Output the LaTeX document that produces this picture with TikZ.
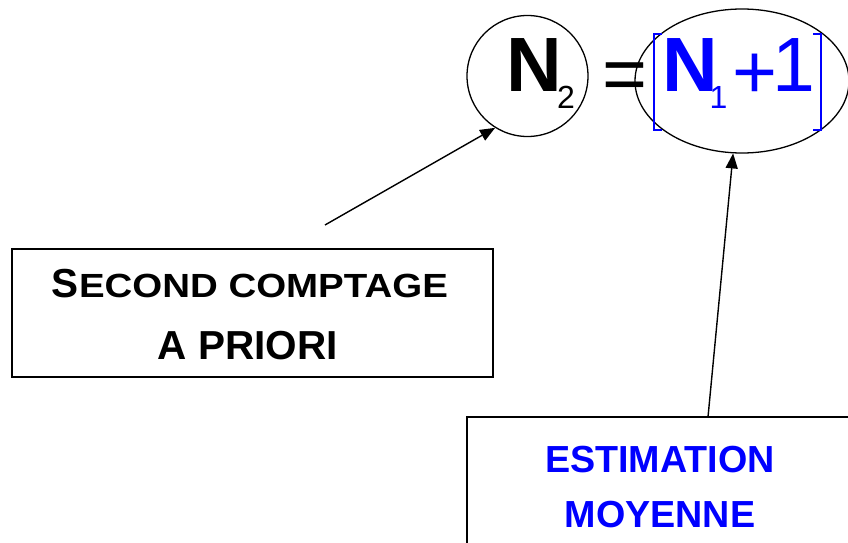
\documentclass[tikz,border=0pt]{standalone}
\usepackage{fontspec}
\setmainfont{Liberation Sans}
\usetikzlibrary{arrows.meta,shapes.geometric}
\definecolor{pureblue}{RGB}{0,0,255}
\newcommand{\fsz}[1]{\fontsize{#1}{#1}\selectfont}
\begin{document}
\begin{tikzpicture}[x=1pt,y=-1pt,
  outline/.style={draw=black,line width=1.3pt},
  ring/.style={ellipse,draw=black,line width=1.3pt,inner sep=0pt},
  txt/.style={inner sep=0pt,outer sep=0pt},
  pointer/.style={line width=1.4pt,-{Triangle[length=15pt,width=12pt]}},
  brk/.style={draw=pureblue,line width=1.1pt}]
\useasboundingbox (0,0) rectangle (848,543);
\clip (0,0) rectangle (848,543);
\fill[white] (0,0) rectangle (848,543);

% left-hand side: N_2 in a circle
\node[ring,minimum width=121pt,minimum height=121pt] (lhs) at (527.5,76) {};
\node[txt,anchor=base west] (nA) at (506,92) {\fsz{77}\bfseries N};
\node[txt,anchor=base west] (sA) at (557,108) {\fsz{32}2};
\node[txt,anchor=base west] (eq) at (602,100) {\fsz{77}=};

% right-hand side: [N_1 + 1] in an ellipse
\node[ring,minimum width=214pt,minimum height=144pt] (rhs) at (742,81) {};
\node[txt,anchor=base west,text=pureblue] (nB) at (662,92) {\fsz{77}\bfseries N};
\node[txt,anchor=base west,text=pureblue] (sB) at (709.5,108) {\fsz{32}1};
\node[txt,anchor=base west,text=pureblue] (pl) at (732.5,98) {\fsz{77}+};
\node[txt,anchor=base west,text=pureblue] (one) at (772,92) {\fsz{77}1};
\draw[brk] (662,34) -- (654,34) -- (654,130) -- (662,130);
\draw[brk] (813,34) -- (821,34) -- (821,130) -- (813,130);

% label boxes
\node[outline,minimum width=481pt,minimum height=128pt,inner sep=0pt] (box1) at (252.5,313) {};
\node[txt,anchor=base west] (l1a) at (51.5,297) {\fsz{40.5}\bfseries S};
\node[txt,anchor=base west] (l1b) at (79,297) {\fsz{33.5}\bfseries\scalebox{1.148}[1]{ECOND COMPTAGE}};
\node[txt,anchor=base] (l1c) at (248,359) {\fsz{40.5}\bfseries A PRIORI};

\node[outline,minimum width=386pt,minimum height=160pt,inner sep=0pt] (box2) at (660,497) {};
\node[txt,anchor=base,text=pureblue] (l2a) at (660,472) {\fsz{37.7}\bfseries ESTIMATION};
\node[txt,anchor=base,text=pureblue] (l2b) at (660,527) {\fsz{37.7}\bfseries MOYENNE};

% pointers
\coordinate (p1) at (325,225);
\coordinate (p2) at (708,417);
\draw[pointer] (p1) -- (lhs.238);
\draw[pointer] (p2) -- (rhs.263);
\end{tikzpicture}
\end{document}
